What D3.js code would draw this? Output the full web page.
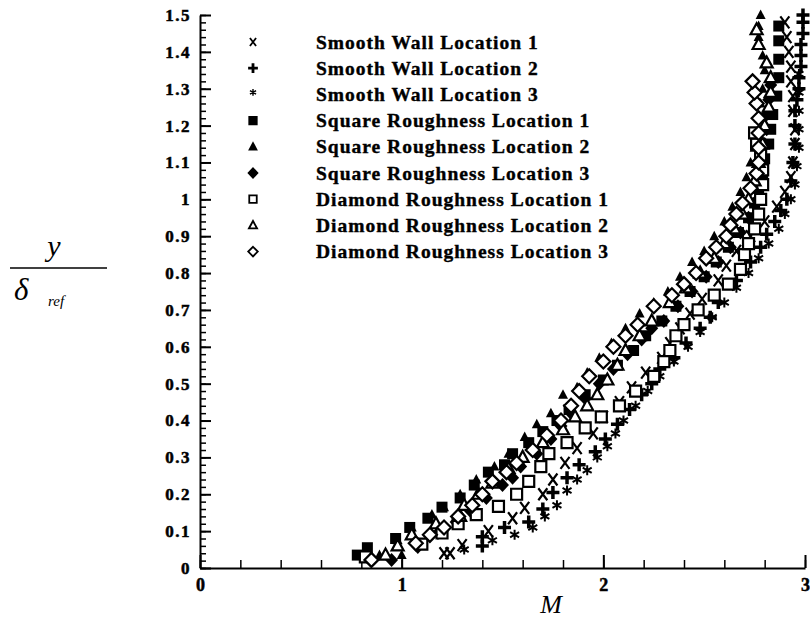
<!DOCTYPE html>
<html>
<head>
<meta charset="utf-8">
<script src="https://cdn.jsdelivr.net/npm/d3@7"></script>
<style>
  body { margin: 0; background: #fff; }
  svg { display: block; }
  text { font-family: "Liberation Serif", "Times New Roman", serif; }
</style>
</head>
<body>
<svg width="810" height="620"></svg>
<script>
// data: [M, y/delta_ref]
const smoothWall1 = [[1.21,0.04],[1.24,0.04],[1.30,0.062],[1.43,0.10],[1.55,0.135],[1.61,0.163],[1.70,0.20],[1.75,0.24],[1.81,0.285],[1.87,0.325],[1.95,0.365],[2.00,0.41],[2.08,0.45],[2.14,0.49],[2.21,0.53],[2.29,0.57],[2.33,0.61],[2.38,0.65],[2.43,0.69],[2.49,0.73],[2.57,0.78],[2.61,0.82],[2.66,0.86],[2.73,0.90],[2.80,0.94],[2.86,0.98],[2.90,1.02],[2.93,1.06],[2.94,1.10],[2.95,1.15],[2.95,1.19],[2.94,1.24],[2.94,1.28],[2.93,1.32],[2.93,1.36],[2.92,1.40],[2.91,1.44],[2.90,1.48]];
const smoothWall2 = [[1.40,0.06],[1.40,0.085],[1.51,0.11],[1.63,0.125],[1.70,0.16],[1.75,0.205],[1.82,0.245],[1.88,0.28],[1.96,0.315],[2.01,0.35],[2.07,0.39],[2.13,0.43],[2.19,0.47],[2.24,0.50],[2.28,0.54],[2.35,0.57],[2.41,0.61],[2.48,0.65],[2.53,0.68],[2.57,0.72],[2.66,0.78],[2.73,0.83],[2.78,0.87],[2.81,0.905],[2.85,0.94],[2.88,0.97],[2.91,1.00],[2.93,1.05],[2.94,1.10],[2.95,1.15],[2.95,1.20],[2.95,1.24],[2.96,1.27],[2.97,1.30],[2.97,1.33],[2.98,1.36],[2.98,1.39],[2.98,1.42],[2.99,1.45],[2.99,1.48],[2.99,1.50]];
const smoothWall3 = [[1.31,0.05],[1.45,0.075],[1.56,0.09],[1.65,0.11],[1.71,0.14],[1.77,0.17],[1.82,0.21],[1.87,0.24],[1.92,0.265],[1.97,0.30],[2.02,0.33],[2.06,0.365],[2.10,0.40],[2.16,0.44],[2.22,0.48],[2.28,0.52],[2.35,0.56],[2.42,0.60],[2.48,0.64],[2.54,0.68],[2.60,0.72],[2.66,0.76],[2.72,0.80],[2.77,0.84],[2.82,0.88],[2.87,0.92],[2.90,0.96],[2.93,1.00],[2.95,1.04],[2.96,1.09],[2.97,1.14],[2.97,1.19],[2.97,1.24],[2.97,1.29],[2.97,1.34]];
const squareRough1 = [[0.78,0.035],[0.83,0.055],[0.97,0.08],[1.04,0.11],[1.13,0.135],[1.20,0.165],[1.29,0.19],[1.36,0.225],[1.43,0.26],[1.51,0.28],[1.55,0.31],[1.63,0.34],[1.70,0.37],[1.77,0.40],[1.83,0.43],[1.91,0.47],[2.00,0.51],[2.07,0.55],[2.15,0.59],[2.21,0.63],[2.29,0.67],[2.36,0.71],[2.43,0.75],[2.50,0.79],[2.56,0.83],[2.62,0.87],[2.67,0.91],[2.72,0.95],[2.75,0.99],[2.77,1.03],[2.79,1.07],[2.80,1.11],[2.82,1.15],[2.83,1.19],[2.84,1.23],[2.86,1.28],[2.87,1.33],[2.87,1.38],[2.87,1.43],[2.87,1.47]];
const squareRough2 = [[0.89,0.035],[1.00,0.035],[0.98,0.075],[1.05,0.11],[1.15,0.145],[1.21,0.165],[1.29,0.20],[1.37,0.24],[1.46,0.275],[1.53,0.31],[1.61,0.355],[1.67,0.39],[1.74,0.42],[1.80,0.47],[1.87,0.49],[1.92,0.53],[1.98,0.57],[2.04,0.61],[2.11,0.65],[2.18,0.69],[2.25,0.72],[2.32,0.75],[2.38,0.79],[2.44,0.83],[2.50,0.86],[2.55,0.90],[2.60,0.94],[2.64,0.98],[2.68,1.02],[2.71,1.06],[2.73,1.10],[2.75,1.14],[2.76,1.18],[2.77,1.22],[2.78,1.26],[2.79,1.30],[2.80,1.35],[2.79,1.39],[2.77,1.44],[2.77,1.47],[2.78,1.50]];
const squareRough3 = [[0.95,0.022],[1.08,0.057],[1.18,0.095],[1.27,0.125],[1.34,0.155],[1.42,0.19],[1.50,0.225],[1.55,0.245],[1.59,0.275],[1.67,0.31],[1.74,0.35],[1.79,0.385],[1.84,0.42],[1.91,0.46],[1.98,0.50],[2.05,0.54],[2.12,0.58],[2.19,0.62],[2.24,0.65],[2.30,0.67],[2.37,0.71],[2.44,0.75],[2.51,0.79],[2.57,0.83],[2.63,0.87],[2.68,0.91],[2.72,0.95],[2.75,0.99],[2.77,1.03],[2.78,1.07],[2.79,1.11],[2.80,1.15],[2.81,1.19],[2.81,1.23],[2.82,1.27],[2.83,1.31]];
const diamondRough1 = [[0.82,0.03],[1.10,0.065],[1.20,0.095],[1.28,0.12],[1.37,0.145],[1.48,0.167],[1.57,0.20],[1.63,0.235],[1.69,0.275],[1.73,0.31],[1.82,0.34],[1.91,0.38],[1.99,0.41],[2.08,0.44],[2.16,0.48],[2.25,0.52],[2.30,0.56],[2.33,0.59],[2.36,0.63],[2.40,0.66],[2.47,0.70],[2.55,0.74],[2.62,0.77],[2.68,0.81],[2.70,0.85],[2.72,0.88],[2.75,0.92],[2.77,0.96],[2.78,1.00],[2.79,1.04],[2.79,1.08],[2.78,1.12],[2.76,1.15],[2.75,1.18]];
const diamondRough2 = [[0.92,0.035],[0.98,0.06],[1.05,0.09],[1.17,0.12],[1.29,0.14],[1.31,0.17],[1.38,0.20],[1.45,0.23],[1.53,0.27],[1.60,0.30],[1.70,0.34],[1.80,0.375],[1.86,0.41],[1.92,0.44],[1.97,0.47],[2.02,0.51],[2.07,0.55],[2.11,0.59],[2.18,0.63],[2.24,0.67],[2.33,0.72],[2.41,0.76],[2.48,0.80],[2.55,0.84],[2.60,0.88],[2.65,0.92],[2.69,0.96],[2.72,1.00],[2.75,1.05],[2.77,1.10],[2.79,1.15],[2.80,1.20],[2.82,1.25],[2.83,1.29],[2.83,1.33],[2.81,1.37],[2.77,1.42],[2.76,1.46]];
const diamondRough3 = [[0.85,0.022],[1.07,0.067],[1.14,0.09],[1.21,0.11],[1.28,0.14],[1.35,0.17],[1.40,0.20],[1.45,0.235],[1.52,0.26],[1.57,0.285],[1.65,0.32],[1.72,0.36],[1.79,0.40],[1.84,0.44],[1.88,0.48],[1.93,0.52],[2.00,0.56],[2.05,0.60],[2.11,0.63],[2.17,0.66],[2.25,0.71],[2.34,0.74],[2.40,0.77],[2.46,0.80],[2.51,0.84],[2.56,0.87],[2.61,0.90],[2.63,0.93],[2.66,0.96],[2.69,0.99],[2.73,1.03],[2.76,1.07],[2.77,1.10],[2.77,1.14],[2.77,1.18],[2.77,1.22],[2.76,1.26],[2.75,1.29],[2.74,1.32]];

const seriesNames = ["Smooth Wall Location 1", "Smooth Wall Location 2", "Smooth Wall Location 3",
  "Square Roughness Location 1", "Square Roughness Location 2", "Square Roughness Location 3",
  "Diamond Roughness Location 1", "Diamond Roughness Location 2", "Diamond Roughness Location 3"];
const seriesMarkers = ["x", "plus", "star", "square", "triangle", "diamond", "osquare", "otriangle", "odiamond"];
const seriesData = [smoothWall1, smoothWall2, smoothWall3, squareRough1, squareRough2, squareRough3,
  diamondRough1, diamondRough2, diamondRough3];

const xTicks = [0, 1, 2, 3];
const yTicks = [0, 0.1, 0.2, 0.3, 0.4, 0.5, 0.6, 0.7, 0.8, 0.9, 1, 1.1, 1.2, 1.3, 1.4, 1.5];

const svg = d3.select("svg");
const x = d3.scaleLinear().domain([0, 3]).range([200, 805]);
const y = d3.scaleLinear().domain([0, 1.5]).range([568, 15]);

// marker paths, s = scale
function markerPath(type, s) {
  const p = d3.path();
  const q = v => v * s;
  switch (type) {
    case "x":
      p.moveTo(q(-4.5), q(-6)); p.lineTo(q(4.5), q(6));
      p.moveTo(q(4.5), q(-6)); p.lineTo(q(-4.5), q(6));
      break;
    case "plus":
      p.moveTo(q(-6.5), 0); p.lineTo(q(6.5), 0);
      p.moveTo(0, q(-6.5)); p.lineTo(0, q(6.5));
      break;
    case "star":
      p.moveTo(0, q(-5)); p.lineTo(0, q(5));
      p.moveTo(q(-4.5), q(-2.6)); p.lineTo(q(4.5), q(2.6));
      p.moveTo(q(-4.5), q(2.6)); p.lineTo(q(4.5), q(-2.6));
      break;
    case "square": case "osquare":
      p.rect(q(-5.5), q(-5.5), q(11), q(11));
      break;
    case "triangle":
      p.moveTo(0, q(-5.5)); p.lineTo(q(5), q(4)); p.lineTo(q(-5), q(4)); p.closePath();
      break;
    case "otriangle":
      p.moveTo(0, q(-6.5)); p.lineTo(q(6), q(4.5)); p.lineTo(q(-6), q(4.5)); p.closePath();
      break;
    case "diamond":
      p.moveTo(0, q(-7)); p.lineTo(q(6.5), 0); p.lineTo(0, q(7)); p.lineTo(q(-6.5), 0); p.closePath();
      break;
    case "odiamond":
      p.moveTo(0, q(-7)); p.lineTo(q(7), 0); p.lineTo(0, q(7)); p.lineTo(q(-7), 0); p.closePath();
      break;
  }
  return p.toString();
}

function styleMarker(sel, type) {
  const open = type[0] === "o";
  const lines = type === "x" || type === "plus" || type === "star";
  sel.attr("fill", lines ? "none" : (open ? "#fff" : "#000"))
    .attr("stroke", "#000")
    .attr("stroke-width", type === "plus" ? 3.5 : type === "star" ? 2 : type === "x" ? 2.2 : open ? 2.2 : 0);
}

// axes
const yMinor = d3.range(0, 1.5001, 0.02);
const xMinor = d3.range(0, 3.0001, 0.2);

svg.append("g").attr("transform", "translate(200,0)")
  .call(d3.axisLeft(y).tickValues(yMinor).tickSize(-6).tickFormat(""))
  .call(g => g.select(".domain").remove())
  .selectAll("line").attr("stroke-width", 1.5);
svg.append("g").attr("transform", "translate(0,568)")
  .call(d3.axisBottom(x).tickValues(xMinor).tickSize(-8).tickFormat(""))
  .call(g => g.select(".domain").remove())
  .selectAll("line").attr("stroke-width", 1.5);

const yAxis = svg.append("g").attr("transform", "translate(200,0)")
  .call(d3.axisLeft(y).tickValues(yTicks).tickSize(-11).tickSizeOuter(0).tickPadding(9)
    .tickFormat(d3.format("~g")));
yAxis.select(".domain").attr("stroke-width", 2);
yAxis.selectAll("line").attr("stroke-width", 2);
yAxis.selectAll("text").attr("font-size", 17).attr("font-weight", "bold")
  .attr("letter-spacing", 1.5).attr("fill", "#000")
  .attr("stroke", "#000").attr("stroke-width", 0.5);

const xAxis = svg.append("g").attr("transform", "translate(0,568)")
  .call(d3.axisBottom(x).tickValues(xTicks).tickSize(-13).tickSizeOuter(0).tickPadding(10)
    .tickFormat(d3.format("~g")));
xAxis.select(".domain").attr("stroke-width", 2);
xAxis.selectAll("line").attr("stroke-width", 2);
xAxis.selectAll("text").attr("font-size", 18).attr("font-weight", "bold").attr("fill", "#000")
  .attr("stroke", "#000").attr("stroke-width", 0.5);

// data markers
seriesData.forEach((data, i) => {
  const type = seriesMarkers[i];
  svg.append("g").selectAll("path")
    .data(data)
    .enter()
    .append("path")
    .attr("transform", d => `translate(${x(d[0])},${y(d[1])})`)
    .attr("d", markerPath(type, 1))
    .call(styleMarker, type);
});

// legend
const legend = svg.append("g");
seriesNames.forEach((name, i) => {
  const ly = 42 + i * 26.2;
  const type = seriesMarkers[i];
  legend.append("path")
    .attr("transform", `translate(253,${type === "star" ? ly - 2 : ly})`)
    .attr("d", markerPath(type, type === "plus" ? 0.75 : 0.68))
    .call(styleMarker, type)
    .attr("stroke-width", type === "plus" ? 2.8 : type === "star" ? 1.4 : 1.8);
  legend.append("text")
    .attr("x", 316).attr("y", ly + 6.5)
    .attr("font-size", 19.5).attr("font-weight", "bold").attr("letter-spacing", 1)
    .attr("stroke", "#000").attr("stroke-width", 0.4)
    .text(name);
});

// axis titles
svg.append("text").attr("x", 551).attr("y", 613).attr("text-anchor", "middle")
  .attr("font-size", 26).attr("font-style", "italic").text("M");

svg.append("line").attr("x1", 10).attr("x2", 107).attr("y1", 268).attr("y2", 268)
  .attr("stroke", "#000").attr("stroke-width", 1.5);
svg.append("text").attr("x", 54).attr("y", 256).attr("text-anchor", "middle")
  .attr("font-size", 30).attr("font-style", "italic").text("y");
svg.append("text").attr("x", 14).attr("y", 300)
  .attr("font-size", 31).attr("font-style", "italic").text("δ");
svg.append("text").attr("x", 48).attr("y", 306)
  .attr("font-size", 15).attr("font-style", "italic").text("ref");
</script>
</body>
</html>
